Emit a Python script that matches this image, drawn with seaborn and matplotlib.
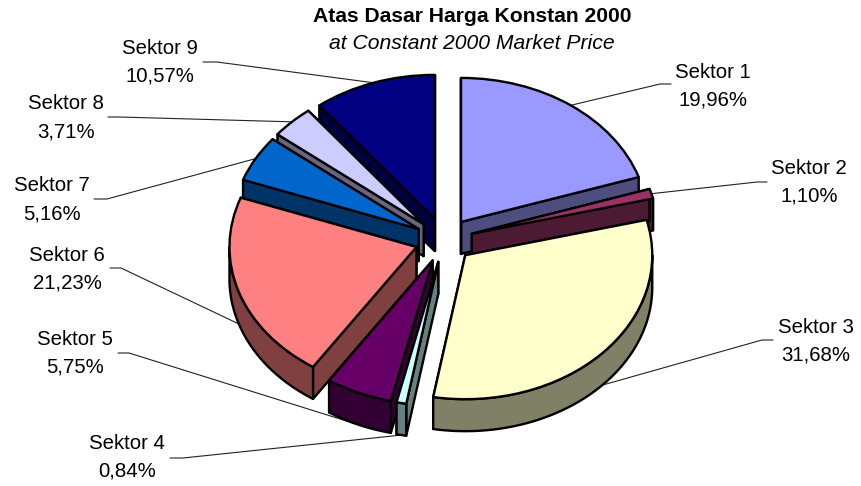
import numpy as np
import matplotlib
matplotlib.use("Agg")
import matplotlib.pyplot as plt
import seaborn as sns

# Data
sectors = ["Sektor 1", "Sektor 2", "Sektor 3", "Sektor 4", "Sektor 5",
           "Sektor 6", "Sektor 7", "Sektor 8", "Sektor 9"]
shares = [19.96, 1.10, 31.68, 0.84, 5.75, 21.23, 5.16, 3.71, 10.57]
slice_colors = ["#9999FF", "#993366", "#FFFFCC", "#CCFFFF", "#660066",
                "#FF8080", "#0066CC", "#CCCCFF", "#000080"]

# Label centres in pixels of the picture
label_x = [713, 809, 816, 127, 75, 67, 52, 66, 160]
label_y = [86, 182, 341, 457, 353, 269, 199.5, 117.5, 62]
# Leader lines start with a short flat stub next to the label
stub_x = [671, 767, 773, 170, 118, 110, 94, 108, 203]
elbow_x = [660, 757, 762, 183, 129, 121, 107, 119, 217]
stub_y = [84, 182, 340, 458, 353, 268, 199, 117, 62]

W, H = 861, 486
CX, CY = 444, 240    # pie centre in pixels
RX, RY = 187, 144    # pixels per data unit, this squashes the pie
DEPTH = 32 / RY      # height of the 3D side

sns.set_theme(style="white")
plt.rcParams['font.family'] = ['Liberation Sans', 'DejaVu Sans']
palette = sns.color_palette(slice_colors)


def px(x, y):
    # picture pixels to data units
    return (x - CX) / RX, (CY - y) / RY


fig = plt.figure(figsize=(W / 100, H / 100), dpi=100)
ax = fig.add_axes([0, 0, 1, 1])

wedges, _ = ax.pie(shares, colors=palette, startangle=90, counterclock=False,
                   explode=[0.155] * len(shares),
                   wedgeprops=dict(edgecolor="black", linewidth=1.7))

# pie() asks for a round pie, undo that to get the ellipse
ax.set_aspect("auto")
ax.set_xlim(px(0, 0)[0], px(W, 0)[0])
ax.set_ylim(px(0, H)[1], px(0, 0)[1])
ax.axis("off")

mids = [np.radians((w.theta1 + w.theta2) / 2) for w in wedges]

# Back slices first, so the front ones cover them
order = sorted(range(len(wedges)), key=lambda i: -np.sin(mids[i]))

for rank, i in enumerate(order):
    w = wedges[i]
    cx, cy = w.center
    side = tuple(c * 0.5 for c in palette[i])
    z = 10 + rank * 2
    face = dict(facecolor=side, edgecolor="black", linewidth=1.7,
                joinstyle="round", zorder=z)

    # Flat cut faces
    for theta in (w.theta1, w.theta2):
        t = np.radians(theta)
        ox, oy = cx + np.cos(t), cy + np.sin(t)
        ax.fill([cx, ox, ox, cx], [cy, oy, oy - DEPTH, cy - DEPTH], **face)

    # Outer rim, only the part on the front half
    t1, t2 = w.theta1 % 360, w.theta2 % 360
    if t2 <= t1:
        t2 += 360
    ranges = [(max(t1, 180), min(t2, 360)), (max(t1, 540), min(t2, 720))]
    for a, b in ranges:
        if b > a:
            t = np.radians(np.linspace(a, b, 60))
            xs = cx + np.cos(t)
            ys = cy + np.sin(t)
            ax.fill(np.r_[xs, xs[::-1]], np.r_[ys, ys[::-1] - DEPTH], **face)

    w.set_zorder(z + 1)
    w.set_joinstyle("round")

# Leader lines and labels
for i, w in enumerate(wedges):
    ex = w.center[0] + np.cos(mids[i])
    ey = w.center[1] + np.sin(mids[i])
    if np.sin(mids[i]) < 0 and abs(np.cos(mids[i])) < 0.98:
        ey -= DEPTH
    sx, sy = px(stub_x[i], stub_y[i])
    kx, ky = px(elbow_x[i], stub_y[i])
    ax.plot([sx, kx, ex], [sy, ky, ey], color="#222222", linewidth=0.8, zorder=5)
    value = f"{shares[i]:.2f}%".replace(".", ",")
    ax.text(*px(label_x[i], label_y[i]), f"{sectors[i]}\n{value}", ha="center",
            va="center", fontsize=14.7, color="black", linespacing=1.6, zorder=40)

ax.text(*px(472, 16), "Atas Dasar Harga Konstan 2000", ha="center", va="center",
        fontsize=15.2, fontweight="bold", color="black")
ax.text(*px(472, 43), "at Constant 2000 Market Price", ha="center", va="center",
        fontsize=15.2, fontstyle="italic", color="black")

fig.savefig("out.png", dpi=100, facecolor="white")
